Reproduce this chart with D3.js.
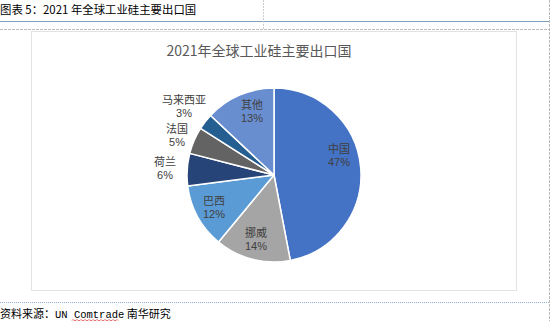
<!DOCTYPE html>
<html><head><meta charset="utf-8">
<script src="https://cdn.jsdelivr.net/npm/d3@7"></script>
<style>body{margin:0;background:#fff;}svg{display:block;}</style>
</head><body>
<svg id="c" width="550" height="321"></svg>
<script>
const categories = ["中国","挪威","巴西","荷兰","法国","马来西亚","其他"];
const values = [47,14,12,6,5,3,13];
const colors = ["#4472C4","#A5A5A5","#5B9BD5","#264478","#636363","#255E91","#698ED0"];
const labelPos = [[339,149],[256,233],[214,201],[165,162],[177,128.5],[184,100],[252,105]];

const svg = d3.select("#c");
const font = "'Noto Sans CJK SC', 'Noto Sans', sans-serif";
const latin = "'Liberation Sans', Arial, sans-serif";

// page decorations
svg.append("text").attr("x",0).attr("y",14).attr("font-family",font).attr("font-size",11.4).attr("fill","#000")
  .text("图表 5：2021 年全球工业硅主要出口国");
svg.append("line").attr("x1",0).attr("x2",550).attr("y1",21.5).attr("y2",21.5).attr("stroke","#7f9fbf").attr("stroke-width",1);
svg.append("line").attr("x1",263.5).attr("x2",263.5).attr("y1",0).attr("y2",29).attr("stroke","#ccc").attr("stroke-dasharray","2,1");
svg.append("line").attr("x1",0).attr("x2",550).attr("y1",29.5).attr("y2",29.5).attr("stroke","#bbb").attr("stroke-dasharray","3,1");
svg.append("line").attr("x1",549.5).attr("x2",549.5).attr("y1",0).attr("y2",321).attr("stroke","#bbb").attr("stroke-dasharray","3,1");
svg.append("line").attr("x1",0).attr("x2",550).attr("y1",302.5).attr("y2",302.5).attr("stroke","#8fb0d0").attr("stroke-dasharray","1,1");
svg.append("rect").attr("x",31.5).attr("y",31.5).attr("width",485).attr("height",259).attr("fill","#fff").attr("stroke","#e3e3e3");

svg.append("text").attr("x",259).attr("y",56).attr("text-anchor","middle").attr("font-family",font)
  .attr("font-size",14).attr("fill","#595959").text("2021年全球工业硅主要出口国");

// pie
const cx = 274, cy = 175, r = 87;
const pie = d3.pie().sort(null).value(d=>d)(values);
const arc = d3.arc().innerRadius(0).outerRadius(r);
const g = svg.append("g").attr("transform",`translate(${cx},${cy})`);
g.selectAll("path").data(pie).join("path").attr("d",arc)
  .attr("fill",(d,i)=>colors[i]).attr("stroke","#fff").attr("stroke-width",1.5).attr("stroke-linejoin","round");

// labels
const lab = svg.append("g").attr("font-size",11).attr("fill","#404040").attr("text-anchor","middle");
categories.forEach((c,i)=>{
  const [x,y] = labelPos[i];
  lab.append("text").attr("x",x).attr("y",y+4).attr("font-family",font).text(c);
  lab.append("text").attr("x",x).attr("y",y+17).attr("font-family",latin).text(values[i]+"%");
});

// source
const src = svg.append("text").attr("x",0).attr("y",318).attr("font-family",font).attr("font-size",11).attr("fill","#000");
src.append("tspan").text("资料来源：");
src.append("tspan").attr("font-family","'Liberation Mono', monospace").attr("font-size",10.5).text("UN Comtrade");
src.append("tspan").text(" 南华研究");
// red wavy underline
let dstr = "M72,320.5";
for(let x=72;x<117;x+=2){ dstr += ` L${x+1},${(x/2)%2===0?319.5:321} L${x+2},320.5`; }
svg.append("path").attr("d",dstr).attr("fill","none").attr("stroke","#e03030").attr("stroke-width",0.8);
</script>
</body></html>
